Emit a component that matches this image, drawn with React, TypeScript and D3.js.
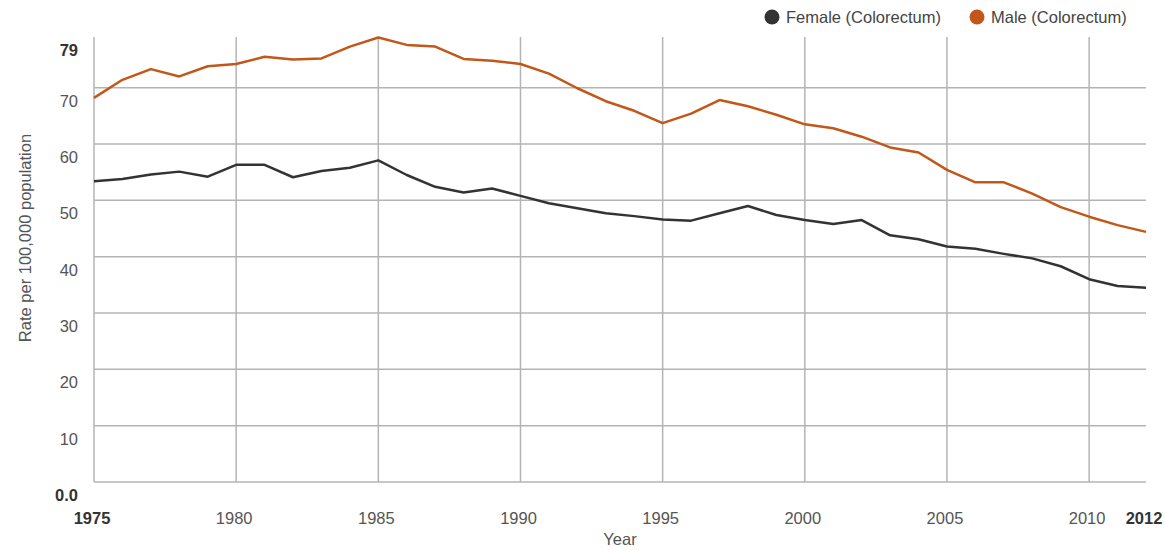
import React from 'react';
import * as d3 from 'd3';

const years = [
  1975, 1976, 1977, 1978, 1979, 1980, 1981, 1982, 1983, 1984,
  1985, 1986, 1987, 1988, 1989, 1990, 1991, 1992, 1993, 1994,
  1995, 1996, 1997, 1998, 1999, 2000, 2001, 2002, 2003, 2004,
  2005, 2006, 2007, 2008, 2009, 2010, 2011, 2012,
];

const maleRates = [
  68.2, 71.4, 73.3, 72.0, 73.8, 74.2, 75.5, 75.0, 75.2, 77.3,
  78.9, 77.6, 77.3, 75.1, 74.8, 74.2, 72.5, 69.9, 67.6, 65.9,
  63.7, 65.4, 67.8, 66.7, 65.2, 63.5, 62.8, 61.3, 59.4, 58.5,
  55.4, 53.2, 53.2, 51.2, 48.8, 47.1, 45.6, 44.4,
];

const femaleRates = [
  53.4, 53.8, 54.6, 55.1, 54.2, 56.3, 56.3, 54.1, 55.2, 55.8,
  57.1, 54.5, 52.4, 51.4, 52.1, 50.8, 49.5, 48.6, 47.7, 47.2,
  46.6, 46.4, 47.7, 49.0, 47.4, 46.5, 45.8, 46.5, 43.8, 43.1,
  41.8, 41.4, 40.5, 39.7, 38.3, 36.0, 34.8, 34.5,
];

const yTicks = [0, 10, 20, 30, 40, 50, 60, 70, 79];
const yTickLabels = ['0.0', '10', '20', '30', '40', '50', '60', '70', '79'];
const yGrid = [0, 10, 20, 30, 40, 50, 60, 70];
const xTicks = [1975, 1980, 1985, 1990, 1995, 2000, 2005, 2010, 2012];
const xGrid = [1975, 1980, 1985, 1990, 1995, 2000, 2005, 2010];

const series = [
  { name: 'Female (Colorectum)', values: femaleRates, color: '#333333' },
  { name: 'Male (Colorectum)', values: maleRates, color: '#c2571a' },
];

const FONT = '"Liberation Sans", Arial, sans-serif';

export default function App() {
  const width = 1165;
  const height = 550;
  const margin = { top: 37, right: 19, bottom: 68, left: 94 };
  const innerW = width - margin.left - margin.right;
  const innerH = height - margin.top - margin.bottom;

  const x = d3.scaleLinear().domain([1975, 2012]).range([0, innerW]);
  const y = d3.scaleLinear().domain([0, 79]).range([innerH, 0]);

  const line = d3
    .line<number>()
    .x((_, i) => x(years[i]))
    .y(d => y(d));

  const legendX = [772, 977];

  return (
    <svg
      width={width}
      height={height}
      style={{ position: 'absolute', left: 0, top: 0, background: '#fff', fontFamily: FONT }}
    >
      {/* legend */}
      {series.map((s, i) => (
        <g key={s.name} transform={`translate(${legendX[i]},17)`}>
          <circle r={7.5} fill={s.color} />
          <text x={14} y={6} fontSize={16.5} fill="#444">
            {s.name}
          </text>
        </g>
      ))}

      <g transform={`translate(${margin.left},${margin.top})`}>
        {/* grid */}
        {yGrid.map(v => (
          <line
            key={'h' + v}
            x1={0}
            x2={innerW}
            y1={y(v)}
            y2={y(v)}
            stroke="#b4b4b4"
            strokeWidth={1.5}
          />
        ))}
        {xGrid.map(v => (
          <line
            key={'v' + v}
            x1={x(v)}
            x2={x(v)}
            y1={0}
            y2={innerH}
            stroke="#b4b4b4"
            strokeWidth={1.5}
          />
        ))}

        {/* y tick labels, drawn just under their grid line */}
        {yTicks.map((v, i) => {
          const edge = i === 0 || i === yTicks.length - 1;
          return (
            <text
              key={'yt' + v}
              x={-16}
              y={y(v) + 19}
              textAnchor="end"
              fontSize={16.5}
              fontWeight={edge ? 'bold' : 'normal'}
              fill={edge ? '#333' : '#555'}
            >
              {yTickLabels[i]}
            </text>
          );
        })}

        {/* x tick labels */}
        {xTicks.map((v, i) => {
          const edge = i === 0 || i === xTicks.length - 1;
          return (
            <text
              key={'xt' + v}
              x={x(v) - 2}
              y={innerH + 42}
              textAnchor="middle"
              fontSize={16.5}
              fontWeight={edge ? 'bold' : 'normal'}
              fill={edge ? '#333' : '#555'}
            >
              {v}
            </text>
          );
        })}

        {/* lines */}
        {series.map(s => (
          <path
            key={s.name}
            d={line(s.values) ?? ''}
            fill="none"
            stroke={s.color}
            strokeWidth={2.5}
            strokeLinejoin="round"
          />
        ))}
      </g>

      {/* axis titles */}
      <text
        x={margin.left + innerW / 2}
        y={545}
        textAnchor="middle"
        fontSize={16.5}
        fill="#555"
      >
        Year
      </text>
      <text
        transform="translate(31,238) rotate(-90)"
        textAnchor="middle"
        fontSize={16.5}
        fill="#555"
      >
        Rate per 100,000 population
      </text>
    </svg>
  );
}
